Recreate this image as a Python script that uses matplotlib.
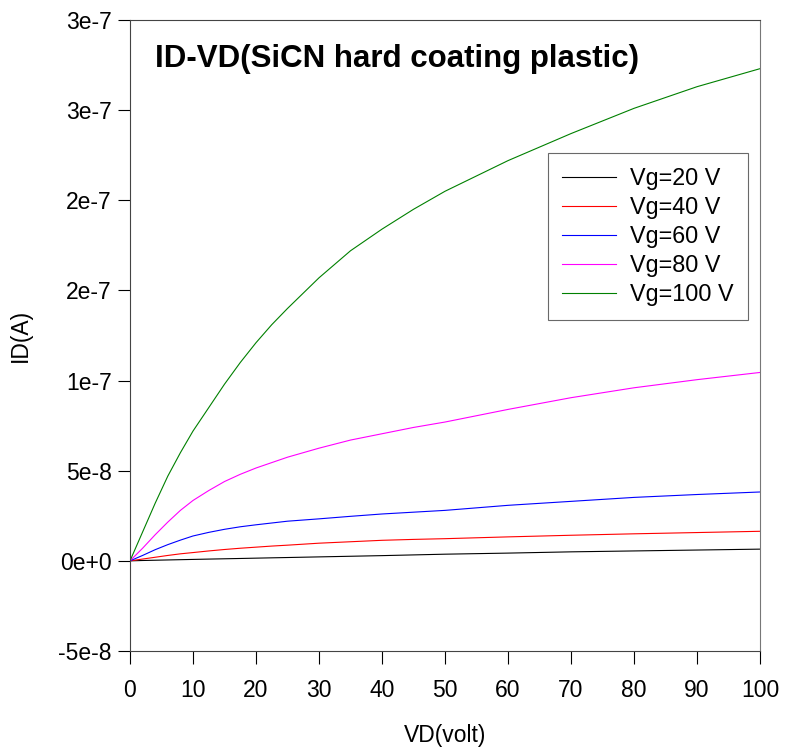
import matplotlib.pyplot as plt

vd = [0, 2, 4, 6, 8, 10, 12.5, 15, 17.5, 20, 22.5, 25, 30, 35, 40, 45, 50, 60, 70, 80, 90, 100]

id_20 = [0, 2e-10, 3.5e-10, 5e-10, 6.5e-10, 8e-10, 9.8e-10, 1.15e-9, 1.32e-9, 1.5e-9, 1.68e-9,
         1.85e-9, 2.2e-9, 2.55e-9, 2.9e-9, 3.3e-9, 3.7e-9, 4.3e-9, 5e-9, 5.5e-9, 6e-9, 6.5e-9]
id_40 = [0, 1e-9, 2e-9, 3e-9, 3.9e-9, 4.6e-9, 5.5e-9, 6.3e-9, 7.0e-9, 7.6e-9, 8.2e-9,
         8.7e-9, 9.8e-9, 1.06e-8, 1.14e-8, 1.19e-8, 1.23e-8, 1.33e-8, 1.42e-8, 1.5e-8, 1.57e-8, 1.64e-8]
id_60 = [0, 3e-9, 6.2e-9, 9e-9, 1.15e-8, 1.38e-8, 1.58e-8, 1.75e-8, 1.89e-8, 2.0e-8, 2.1e-8,
         2.2e-8, 2.33e-8, 2.47e-8, 2.6e-8, 2.7e-8, 2.8e-8, 3.08e-8, 3.3e-8, 3.52e-8, 3.68e-8, 3.82e-8]
id_80 = [0, 7e-9, 1.45e-8, 2.15e-8, 2.8e-8, 3.35e-8, 3.9e-8, 4.4e-8, 4.8e-8, 5.15e-8, 5.45e-8,
         5.75e-8, 6.25e-8, 6.7e-8, 7.05e-8, 7.4e-8, 7.7e-8, 8.4e-8, 9.05e-8, 9.6e-8, 1.005e-7, 1.045e-7]
id_100 = [0, 1.6e-8, 3.2e-8, 4.7e-8, 6.0e-8, 7.2e-8, 8.5e-8, 9.8e-8, 1.1e-7, 1.21e-7, 1.31e-7,
          1.4e-7, 1.57e-7, 1.72e-7, 1.84e-7, 1.95e-7, 2.05e-7, 2.22e-7, 2.37e-7, 2.51e-7, 2.63e-7, 2.73e-7]

labels = ['Vg=20 V', 'Vg=40 V', 'Vg=60 V', 'Vg=80 V', 'Vg=100 V']
colors = ['black', 'red', 'blue', 'magenta', 'green']

y_ticks = [-5e-8, 0, 5e-8, 1e-7, 1.5e-7, 2e-7, 2.5e-7, 3e-7]
y_tick_labels = ['-5e-8', '0e+0', '5e-8', '1e-7', '2e-7', '2e-7', '3e-7', '3e-7']
x_ticks = [0, 10, 20, 30, 40, 50, 60, 70, 80, 90, 100]

plt.rcParams['font.family'] = ['Liberation Sans', 'DejaVu Sans']

fig = plt.figure(figsize=(7.85, 7.49), dpi=100)
ax = fig.add_axes([130 / 785, 1 - 651 / 749, 630 / 785, 631 / 749])

for ys, lab, c in zip([id_20, id_40, id_60, id_80, id_100], labels, colors):
    ax.plot(vd, ys, color=c, lw=0.8, label=lab)

ax.set_xlim(0, 100)
ax.set_ylim(-5e-8, 3e-7)
ax.set_xticks(x_ticks)
ax.set_yticks(y_ticks)
ax.set_yticklabels(y_tick_labels)
ax.tick_params(labelsize=16.5, length=9, width=0.8, direction='out')
ax.tick_params(axis='y', pad=4)
ax.tick_params(axis='x', pad=11)

for s in ax.spines.values():
    s.set_color('#444444')
    s.set_linewidth(0.8)
ax.spines['right'].set_color('#777777')

ax.set_xlabel('VD(volt)', fontsize=16.5, labelpad=16)
ax.set_ylabel('ID(A)', fontsize=16.5, labelpad=19)

ax.text(0.04, 0.938, 'ID-VD(SiCN hard coating plastic)', transform=ax.transAxes,
        fontsize=22.5, fontweight='bold', va='center')

leg = ax.legend(loc='upper right', bbox_to_anchor=(0.9810, 0.7892), borderaxespad=0,
                fontsize=16.8, frameon=True, fancybox=False, edgecolor='#444444',
                handlelength=2.33, borderpad=0.6, labelspacing=0.26, handletextpad=0.62)
leg.get_frame().set_linewidth(0.8)

fig.savefig('out.png', dpi=100)
